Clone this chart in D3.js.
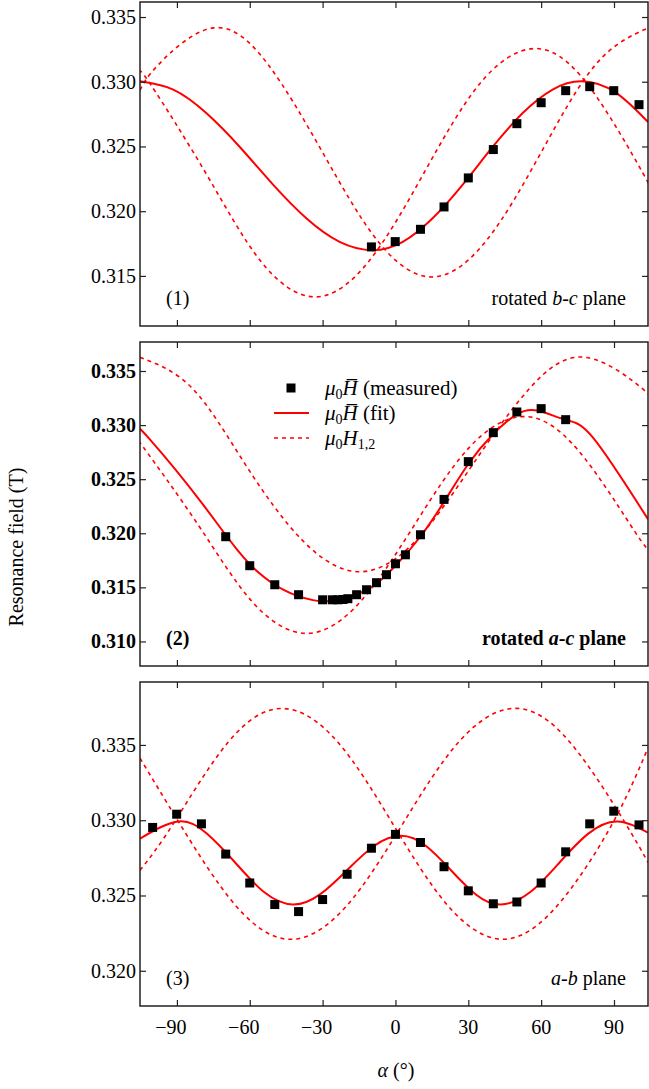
<!DOCTYPE html>
<html><head><meta charset="utf-8">
<script src="https://cdn.jsdelivr.net/npm/d3@7"></script>
<style>body{margin:0;background:#fff}text{font-family:"Liberation Serif","DejaVu Serif",serif}</style>
</head><body><svg id="c" width="649" height="1089"></svg>
<script>
const xTicks=[-90,-60,-30,0,30,60,90];
const yTicks1=[0.315,0.320,0.325,0.330,0.335];
const yTicks2=[0.310,0.315,0.320,0.325,0.330,0.335];
const yTicks3=[0.320,0.325,0.330,0.335];
// panel 1
const meas1=[[-9.9,.31724],[-0.1,.31765],[10.3,.3186],[20,.32033],[30,.32257],[40.3,.32476],[50,.32676],[60,.32838],[70.1,.32931],[80,.32962],[89.9,.32931],[100.3,.32823]];
const fit1=[[-105.2,.33003],[-91.5,.32939],[-77.8,.32756],[-64.1,.32496],[-50.4,.32205],[-36.7,.31945],[-23,.31763],[-9.3,.31699],[3,.31763],[15.3,.31945],[27.7,.32205],[40,.32496],[52.3,.32756],[64.7,.32939],[77,.33003],[90.7,.32916],[104,.32689]];
const h1a=[[-105.2,.32935],[-97.5,.33134],[-75,.33416],[-52.5,.33134],[-30,.32454],[-7.5,.31774],[15,.31492],[37.5,.31774],[60,.32454],[82.5,.33134],[104,.33415]];
const h1b=[[-105.2,.33069],[-100.7,.32975],[-78.2,.32297],[-55.7,.31619],[-33.2,.31338],[-10.7,.31619],[11.8,.32297],[34.3,.32975],[56.8,.33256],[79.3,.32975],[101.8,.32297],[104,.3222]];
// panel 2
const meas2=[[-69.9,.31968],[-60,.317],[-49.7,.31524],[-39.9,.31432],[-30,.31385],[-26,.31385],[-23.7,.31385],[-21.6,.31388],[-19.6,.31395],[-16,.31432],[-11.9,.31478],[-7.8,.31543],[-3.7,.31617],[0,.31718],[4.1,.31801],[10.3,.31986],[20,.32313],[30,.32662],[40.3,.3293],[50,.33121],[60,.33152],[70.1,.3305]];
const fit2=[[-105.2,.32948],[-101.5,.32877],[-79,.32258],[-56.5,.31639],[-34,.31382],[-20,.31405],[-10,.31500],[0,.31700],[10.3,.3197],[20,.3229],[30,.3264],[40,.3291],[50,.3310],[58.5,.33134],[70,.3305],[81.6,.32877],[104,.3213]];
const h2a=[[-105.2,.33626],[-83.5,.33336],[-61.8,.32635],[-38.3,.31934],[-14.8,.31644],[8.5,.31934],[31.8,.32635],[55.1,.33336],[78.4,.33626],[101.7,.33336],[104,.3326]];
const h2b=[[-105.2,.3283],[-103.5,.32785],[-81.2,.32076],[-59,.31367],[-36.7,.31074],[-14.45,.31367],[7.8,.32076],[30.05,.32785],[52.3,.33078],[74.55,.32785],[96.8,.32076],[104,.3185]];
// panel 3
const meas3=[[-100,.32952],[-90.1,.3304],[-79.9,.32976],[-69.9,.32775],[-60,.32583],[-49.7,.3244],[-39.9,.32393],[-30,.32473],[-19.9,.32641],[-9.9,.32814],[0,.32906],[10.3,.32852],[20,.32691],[30,.32531],[40.3,.32445],[50,.32457],[60,.32583],[70.1,.3279],[80,.32976],[89.9,.3306],[100.3,.32969]];
const fit3=[[-105.2,.32878],[-89.5,.32992],[-77.7,.32911],[-65.85,.32716],[-54,.32521],[-42.2,.3244],[-31.1,.32507],[-19.95,.32668],[-8.8,.32829],[2.3,.32896],[12.6,.32829],[22.85,.32668],[33.1,.32507],[43.4,.3244],[55.4,.32521],[67.4,.32716],[79.4,.32911],[91.4,.32992],[104,.32917]];
const h3a=[[-105.2,.33412],[-88.8,.32976],[-65.85,.32434],[-42.9,.32209],[-19.95,.32434],[3,.32976],[25.95,.33518],[48.9,.33743],[71.85,.33518],[94.8,.32976],[104,.3272]];
const h3b=[[-105.2,.32667],[-91.5,.32976],[-68.9,.33518],[-46.3,.33742],[-23.7,.33518],[-1.1,.32976],[21.5,.32434],[44.1,.32209],[66.7,.32434],[89.3,.32976],[104,.3348]];

const svg=d3.select("#c");
const x=d3.scaleLinear().domain([-105.2,104]).range([140,648]);
const panels=[
 {top:2,bot:326,dom:[0.31113,0.33616],ticks:yTicks1,meas:meas1,fit:fit1,h:[h1a,h1b],num:"(1)",lab:["rotated ",["b","i"],"-",["c","i"]," plane"],bold:false},
 {top:342,bot:666,dom:[0.30773,0.33768],ticks:yTicks2,meas:meas2,fit:fit2,h:[h2a,h2b],num:"(2)",lab:["rotated ",["a","i"],"-",["c","i"]," plane"],bold:true},
 {top:682,bot:1006,dom:[0.31766,0.33918],ticks:yTicks3,meas:meas3,fit:fit3,h:[h3a,h3b],num:"(3)",lab:[["a","i"],"-",["b","i"]," plane"],bold:false}
];
const FS=20;
panels.forEach((p,i)=>{
  const y=d3.scaleLinear().domain(p.dom).range([p.bot,p.top]);
  const g=svg.append("g");
  const cid="clip"+i;
  g.append("clipPath").attr("id",cid).append("rect").attr("x",140).attr("y",p.top).attr("width",508).attr("height",p.bot-p.top);
  const pg=g.append("g").attr("clip-path",`url(#${cid})`);
  const line=d3.line().x(d=>x(d[0])).y(d=>y(d[1])).curve(d3.curveNatural);
  p.h.forEach(h=>pg.append("path").attr("d",line(h)).attr("fill","none").attr("stroke","#f00").attr("stroke-width",1.6).attr("stroke-dasharray","4,4"));
  pg.append("path").attr("d",line(p.fit)).attr("fill","none").attr("stroke","#f00").attr("stroke-width",2);
  pg.selectAll("rect.m").data(p.meas).join("rect").attr("x",d=>x(d[0])-4.5).attr("y",d=>y(d[1])-4.5).attr("width",9).attr("height",9).attr("fill","#000");
  const fw=p.bold?"bold":"normal";
  g.append("g").attr("transform","translate(140,0)").call(d3.axisRight(y).tickValues(p.ticks).tickSize(6).tickFormat(""));
  g.append("g").attr("transform","translate(648,0)").call(d3.axisLeft(y).tickValues(p.ticks).tickSize(6).tickFormat(""));
  g.append("g").attr("transform",`translate(0,${p.top})`).call(d3.axisBottom(x).tickValues(xTicks).tickSize(6).tickFormat(""));
  g.append("g").attr("transform",`translate(0,${p.bot})`).call(d3.axisTop(x).tickValues(xTicks).tickSize(6).tickFormat(""));
  g.selectAll(".domain").remove();
  g.selectAll(".tick line").attr("stroke","#222").attr("stroke-width",1.2);
  g.append("rect").attr("x",140).attr("y",p.top).attr("width",508).attr("height",p.bot-p.top).attr("fill","none").attr("stroke","#222").attr("stroke-width",1.5);
  p.ticks.forEach(t=>g.append("text").attr("x",136).attr("y",y(t)+7).attr("text-anchor","end").attr("font-size",FS).attr("font-weight",fw).text(t.toFixed(3)));
  g.append("text").attr("x",166).attr("y",p.bot-21).attr("font-size",FS).attr("font-weight",fw).text(p.num);
  const lt=g.append("text").attr("x",626).attr("y",p.bot-21).attr("text-anchor","end").attr("font-size",FS).attr("font-weight",fw);
  p.lab.forEach(s=>{ if(Array.isArray(s)) lt.append("tspan").attr("font-style","italic").text(s[0]); else lt.append("tspan").text(s);});
});
xTicks.forEach(t=>svg.append("text").attr("x",x(t)-(t<0?6:0)).attr("y",1034).attr("text-anchor","middle").attr("font-size",FS).text(t<0?"\u2212"+(-t):t));
const xl=svg.append("text").attr("x",396).attr("y",1077).attr("text-anchor","middle").attr("font-size",FS);
xl.append("tspan").attr("font-style","italic").text("α");xl.append("tspan").text(" (°)");
svg.append("text").attr("transform","translate(23,547) rotate(-90)").attr("text-anchor","middle").attr("font-size",FS).text("Resonance field (T)");
function mu(y,sub,bar,rest){
  const tx=svg.append("text").attr("x",325).attr("y",y).attr("font-size",21);
  tx.append("tspan").attr("font-style","italic").text("μ");
  tx.append("tspan").attr("font-size",14).attr("dy",4).text("0");
  tx.append("tspan").attr("font-style","italic").attr("dy",-4).text(bar?"H\u0305":"H");
  if(sub){tx.append("tspan").attr("font-size",14).attr("dy",4).text(sub);}
  else tx.append("tspan").text(rest);
}
svg.append("rect").attr("x",286.5).attr("y",383.5).attr("width",9).attr("height",9).attr("fill","#000");
mu(395,null,true,"  (measured)");
svg.append("line").attr("x1",274).attr("x2",309).attr("y1",413).attr("y2",413).attr("stroke","#f00").attr("stroke-width",2);
mu(420,null,true,"  (fit)");
svg.append("line").attr("x1",274).attr("x2",309).attr("y1",438).attr("y2",438).attr("stroke","#f00").attr("stroke-width",1.6).attr("stroke-dasharray","4,4");
mu(445,"1,2",false,"");
</script></body></html>
